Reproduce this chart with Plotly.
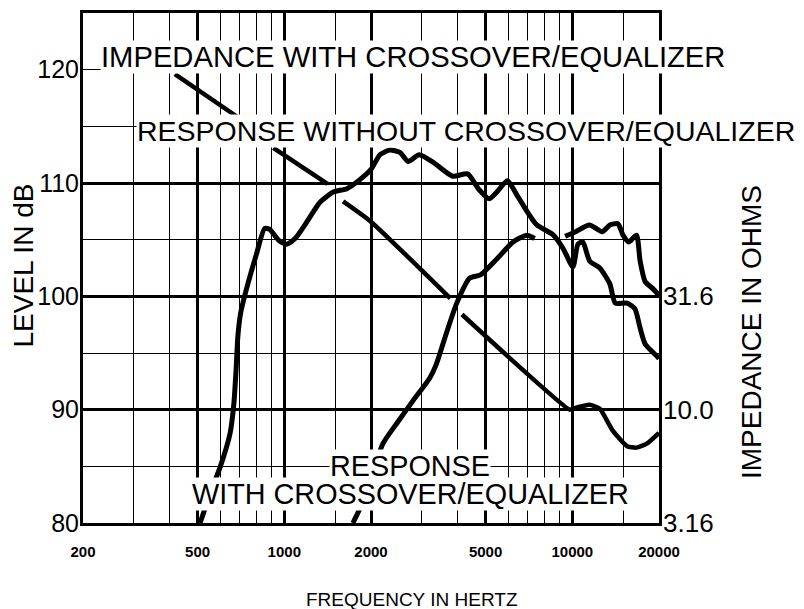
import plotly.graph_objects as go

# ---------------- data ----------------
freq_without = [510, 560, 600, 648, 668, 680, 690, 705, 740, 800, 855, 890, 960, 1020, 1090,
                1200, 1330, 1480, 1650, 1830, 2000, 2150, 2320, 2520, 2690, 2940, 3300, 3840,
                4330, 4750, 5150, 5470, 5950, 6400, 6960, 7530, 8600, 9300, 10050, 10460,
                10870, 11500, 12460, 13500, 14100, 15500, 16500, 17200, 17900, 19700, 20000]
level_without = [80.0, 83.0, 85.0, 87.9, 90.5, 93.5, 96.5, 98.5, 100.7, 103.7, 106.0, 105.9,
                 104.9, 104.6, 105.1, 106.6, 108.3, 109.2, 109.5, 110.3, 111.2, 112.5, 112.9,
                 112.7, 111.9, 112.5, 111.8, 110.6, 110.8, 109.4, 108.6, 109.2, 110.2, 109.0,
                 107.5, 106.3, 105.4, 104.2, 102.6, 104.6, 104.8, 103.1, 102.5, 101.1, 99.4,
                 99.4, 98.9, 97.2, 95.8, 94.7, 94.5]

freq_with = [1730, 1870, 2200, 2460, 2800, 3200, 3370, 3670, 3970, 4400, 4800, 5470, 6230,
             6960, 7400, None,
             9440, 10270, 11470, 12700, 13500, 14400, 15000, 15700, 16700, 17200, 17900,
             19000, 20000]
level_with = [80.0, 81.8, 87.0, 88.8, 90.8, 92.8, 94.0, 96.9, 99.4, 101.6, 101.9, 103.3, 104.8,
              105.4, 105.1, None,
              105.3, 105.7, 106.3, 105.7, 106.3, 106.4, 105.4, 104.8, 105.4, 103.1, 101.3,
              100.7, 100.1]

freq_imp = [417, 690, None, 916, 1412, None, 1600, 1985, 3770, None,
            4140, 9800, 10050, 11470, 12460, 13800, 15500, 16700, 18200, 20000]
ohms_imp = [302, 195, None, 143, 99, None, 83, 68, 31, None,
            26.3, 10.0, 10.1, 10.5, 10.1, 8.1, 6.9, 6.8, 7.1, 7.9]

x_tickvals = [200, 500, 1000, 2000, 5000, 10000, 20000]
x_minorvals = [300, 400, 600, 700, 800, 900, 1500, 3000, 4000, 6000, 7000, 8000, 9000, 15000]
y_tickvals = [80, 90, 100, 110, 120]
y_minorvals = [85, 95, 105, 115, 120]
imp_tickvals = [3.1623, 10.0, 31.623, 100.0]
imp_ticktext = ["3.16", "10.0", "31.6", ""]

FONT = "Liberation Sans, Arial, sans-serif"

fig = go.Figure()
fig.add_trace(go.Scatter(x=freq_without, y=level_without, mode="lines",
                         line=dict(color="black", width=5, shape="spline", smoothing=0.6),
                         name="Response without crossover/equalizer"))
fig.add_trace(go.Scatter(x=freq_with, y=level_with, mode="lines", connectgaps=False,
                         line=dict(color="black", width=5, shape="spline", smoothing=0.6),
                         name="Response with crossover/equalizer"))
fig.add_trace(go.Scatter(x=freq_imp, y=ohms_imp, mode="lines", connectgaps=False, yaxis="y2",
                         line=dict(color="black", width=4.5, shape="spline", smoothing=0.5),
                         name="Impedance with crossover/equalizer"))

# page body has an 8 px default margin, so the figure is 8 px smaller on each axis
fig.update_layout(
    width=796, height=601,
    margin=dict(l=75, r=145, t=2, b=86),
    paper_bgcolor="white", plot_bgcolor="white",
    showlegend=False,
    font=dict(family=FONT, color="black"),
    xaxis=dict(
        type="log", range=[2.30103, 4.30103],
        tickvals=x_tickvals, ticktext=[str(v) for v in x_tickvals],
        tickfont=dict(size=15, weight="bold", family=FONT),
        ticklabelstandoff=13,
        showgrid=True, gridcolor="black", gridwidth=2.6,
        minor=dict(tickvals=x_minorvals, showgrid=True, gridcolor="black", gridwidth=1.3),
        showline=True, linecolor="black", linewidth=3, mirror=True,
        zeroline=False, ticks="",
    ),
    yaxis=dict(
        range=[80, 125],
        tickvals=y_tickvals, ticktext=[str(v) for v in y_tickvals],
        tickfont=dict(size=25, family=FONT),
        ticklabelstandoff=-4,
        showgrid=False,
        minor=dict(tickvals=y_minorvals, showgrid=True, gridcolor="black", gridwidth=1.3),
        showline=True, linecolor="black", linewidth=3, mirror=True,
        zeroline=False, ticks="",
    ),
    yaxis2=dict(
        type="log", range=[0.5, 2.75], overlaying="y", side="right",
        tickvals=imp_tickvals, ticktext=imp_ticktext,
        tickfont=dict(size=26, family=FONT),
        ticklabelstandoff=3,
        showgrid=True, gridcolor="black", gridwidth=2.6,
        showline=False, zeroline=False, ticks="",
    ),
)

labels = [
    ("IMPEDANCE WITH CROSSOVER/EQUALIZER", 0.573, 0.914, 29.2),
    ("RESPONSE WITHOUT CROSSOVER/EQUALIZER", 0.665, 0.768, 28.5),
    ("RESPONSE", 0.568, 0.111, 28.8),
    ("WITH CROSSOVER/EQUALIZER", 0.568, 0.0565, 28.8),
]
for text, ax, ay, fs in labels:
    fig.add_annotation(text=text, x=ax, y=ay, xref="paper", yref="paper",
                       xanchor="center", yanchor="middle", showarrow=False,
                       bgcolor="white", borderpad=0,
                       font=dict(family=FONT, size=fs, color="black"))

fig.add_annotation(text="LEVEL IN dB", x=-0.104, y=0.505, xref="paper", yref="paper",
                   textangle=-90, showarrow=False, xanchor="center", yanchor="middle",
                   font=dict(family=FONT, size=28, color="black"))
fig.add_annotation(text="IMPEDANCE IN OHMS", x=1.161, y=0.374, xref="paper", yref="paper",
                   textangle=-90, showarrow=False, xanchor="center", yanchor="middle",
                   font=dict(family=FONT, size=28, color="black"))
fig.add_annotation(text="FREQUENCY IN HERTZ", x=0.571, y=-0.150, xref="paper", yref="paper",
                   showarrow=False, xanchor="center", yanchor="middle",
                   font=dict(family=FONT, size=19, color="black"))

fig.write_html("out.html")
